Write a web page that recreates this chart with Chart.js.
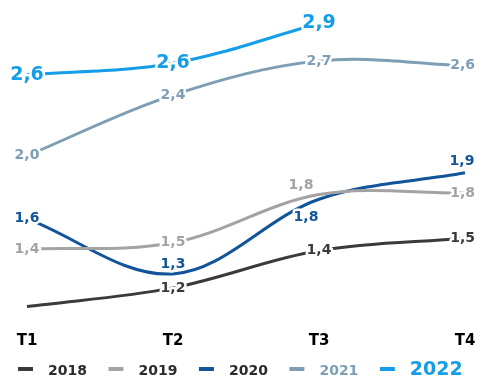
<!DOCTYPE html>
<html>
<head>
<meta charset="utf-8">
<script src="https://cdn.jsdelivr.net/npm/chart.js@4.4.0/dist/chart.umd.min.js"></script>
<style>
  html, body { margin: 0; padding: 0; background: #fff; }
</style>
</head>
<body>
<canvas id="chart" width="477" height="376"></canvas>
<script>
// data
var quarters = ['T1', 'T2', 'T3', 'T4'];
var years = ['2018', '2019', '2020', '2021', '2022'];
var v2018 = [1.08, 1.20, 1.44, 1.52];
var v2019 = [1.45, 1.49, 1.80, 1.81];
var v2020 = [1.645, 1.29, 1.77, 1.94];
var v2021 = [2.05, 2.44, 2.66, 2.63];
var v2022 = [2.57, 2.645, 2.90, null];

var FONT = '"DejaVu Sans", Verdana, sans-serif';

function fmt(v) {
  return v.toFixed(1).replace('.', ',');
}

// value labels with white halo
var pointLabels = {
  id: 'pointLabels',
  afterDatasetsDraw: function (chart) {
    var ctx = chart.ctx;
    chart.data.datasets.forEach(function (ds, i) {
      var meta = chart.getDatasetMeta(i);
      meta.data.forEach(function (pt, j) {
        var v = ds.data[j];
        if (v == null) return;
        if (ds.noLabel && ds.noLabel.indexOf(j) > -1) return;
        var sh = ds.labelShift ? ds.labelShift[j] : [0, 0];
        var txt = fmt(v);
        ctx.save();
        ctx.font = 'bold ' + ds.labelSize + 'px ' + FONT;
        var w = ctx.measureText(txt).width;
        var x = Math.min(pt.x + sh[0], chart.width - 2 - w / 2);
        var y = pt.y + sh[1];
        ctx.textAlign = 'center';
        ctx.textBaseline = 'middle';
        ctx.lineJoin = 'round';
        ctx.lineWidth = 5;
        ctx.strokeStyle = '#fff';
        ctx.strokeText(txt, x, y);
        ctx.fillStyle = ds.borderColor;
        ctx.fillText(txt, x, y);
        ctx.restore();
      });
    });
  }
};

// legend along the bottom
var bottomLegend = {
  id: 'bottomLegend',
  afterDraw: function (chart) {
    var ctx = chart.ctx;
    var x = 18;
    ctx.save();
    chart.data.datasets.forEach(function (ds) {
      ctx.fillStyle = ds.borderColor;
      ctx.fillRect(x, 367, 15, 4);
      x += 30;
      ctx.font = 'bold ' + ds.legendSize + 'px ' + FONT;
      ctx.fillStyle = ds.legendColor;
      ctx.textAlign = 'left';
      ctx.textBaseline = 'alphabetic';
      ctx.fillText(ds.label, x, 375);
      x += ctx.measureText(ds.label).width + 21.5;
    });
    ctx.restore();
  }
};

new Chart(document.getElementById('chart'), {
  type: 'line',
  data: {
    labels: quarters,
    datasets: [
      { label: years[0], data: v2018, borderColor: '#3a3a3a', labelSize: 14,
        legendColor: '#2b2b2b', legendSize: 14, noLabel: [0] },
      { label: years[1], data: v2019, borderColor: '#a3a3a3', labelSize: 14,
        legendColor: '#2b2b2b', legendSize: 14,
        labelShift: [[0, 0], [0, 0], [-18, -9], [0, 0]] },
      { label: years[2], data: v2020, borderColor: '#12549a', labelSize: 14,
        legendColor: '#2b2b2b', legendSize: 14,
        labelShift: [[0, 0], [0, -10], [-13, 18], [-3, -11]] },
      { label: years[3], data: v2021, borderColor: '#7d9eb4', labelSize: 14,
        legendColor: '#7d9eb4', legendSize: 14 },
      { label: years[4], data: v2022, borderColor: '#159de8', labelSize: 19,
        legendColor: '#159de8', legendSize: 19 }
    ]
  },
  options: {
    responsive: false,
    animation: false,
    layout: { padding: { left: 27, right: 12, top: 8, bottom: 13 } },
    elements: {
      line: { borderWidth: 3, tension: 0.35, fill: false },
      point: { radius: 0, hoverRadius: 0 }
    },
    plugins: {
      legend: { display: false },
      tooltip: { enabled: false }
    },
    scales: {
      x: {
        offset: false,
        grid: { display: false, drawTicks: false },
        border: { display: false },
        ticks: { color: '#000', padding: 13, font: { family: FONT, size: 15, weight: 'bold' } },
        afterFit: function (scale) {
          scale.paddingLeft = 0;
          scale.paddingRight = 0;
        }
      },
      y: { display: false, min: 1.0, max: 3.0 }
    }
  },
  plugins: [pointLabels, bottomLegend]
});
</script>
</body>
</html>
